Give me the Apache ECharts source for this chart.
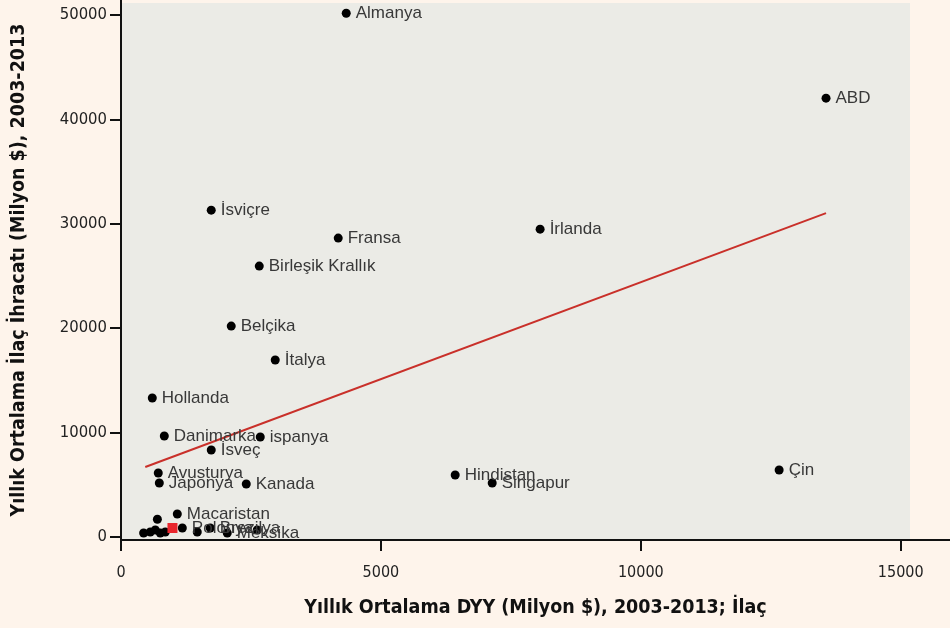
<!DOCTYPE html>
<html>
<head>
<meta charset="utf-8">
<script src="https://cdn.jsdelivr.net/npm/echarts@6/dist/echarts.min.js"></script>
<style>
    html, body { margin: 0; padding: 0; background: #fef4eb; }
    #chart { width: 950px; height: 628px; }
</style>
</head>
<body>
<div id="chart"></div>
<script>
    // ülke verileri: DYY (x) ve ilaç ihracatı (y), milyon $
    const countries = ['Almanya', 'ABD', 'İsviçre', 'Fransa', 'İrlanda', 'Birleşik Krallık', 'Belçika', 'İtalya',
        'Hollanda', 'Danimarka', 'ispanya', 'İsveç', 'Avusturya', 'Japonya', 'Kanada', 'Hindistan', 'Singapur', 'Çin',
        'Macaristan', '', 'Polonya', '', 'Brezilya', 'Meksika', '', '', '', '', '', ''];
    const fdi = [4333, 13563, 1736, 4179, 8063, 2660, 2121, 2967,
        602, 833, 2679, 1736, 717, 737, 2410, 6429, 7141, 12661,
        1083, 700, 1180, 1467, 1717, 2044, 435, 563, 660, 756, 852, 2621];
    const exports = [50170, 42035, 31310, 28630, 29490, 25950, 20200, 16950,
        13310, 9670, 9575, 8330, 6130, 5170, 5075, 5936, 5170, 6415,
        2200, 1700, 860, 480, 860, 380, 380, 480, 670, 380, 480, 670];

    // Türkiye (kırmızı)
    const turkeyX = [990];
    const turkeyY = [860];

    // eğilim çizgisi
    const trendX = [467, 13563];
    const trendY = [6700, 31020];

    const xTicks = [0, 5000, 10000, 15000];
    const yTicks = [0, 10000, 20000, 30000, 40000, 50000];

    const tickFont = "'DejaVu Sans Condensed', sans-serif";
    const labelFont = "'Liberation Sans', Arial, sans-serif";

    const chart = echarts.init(document.getElementById('chart'));

    const option = {
        backgroundColor: '#fef4eb',
        animation: false,
        grid: [
            // gri çizim alanı
            { left: 121, top: 3, width: 789, height: 537, show: true, backgroundColor: '#ebebe6', borderWidth: 0, outerBoundsMode: 'none' },
            { left: 121, right: 0, top: 0, bottom: 88, outerBoundsMode: 'none' }
        ],
        xAxis: [
            { gridIndex: 0, show: false, min: 0, max: 1 },
            {
                gridIndex: 1,
                type: 'value',
                min: 0,
                max: 15948,
                name: 'Yıllık Ortalama DYY (Milyon $), 2003-2013; İlaç',
                nameLocation: 'middle',
                nameGap: 58,
                nameMoveOverlap: false,
                nameTextStyle: { fontFamily: tickFont, fontWeight: 'bold', fontSize: 19.5, color: '#111' },
                axisLine: { onZero: false, lineStyle: { color: '#111', width: 2 } },
                axisTick: { customValues: xTicks, length: 11, lineStyle: { color: '#111', width: 2 } },
                axisLabel: { customValues: xTicks, formatter: v => String(v), margin: 25, fontFamily: tickFont, fontSize: 16, color: '#222' },
                splitLine: { show: false }
            }
        ],
        yAxis: [
            { gridIndex: 0, show: false, min: 0, max: 1 },
            {
                gridIndex: 1,
                type: 'value',
                min: -287,
                max: 51437,
                name: 'Yıllık Ortalama İlaç İhracatı (Milyon $), 2003-2013',
                nameLocation: 'middle',
                nameGap: 92,
                nameMoveOverlap: false,
                nameTextStyle: { fontFamily: tickFont, fontWeight: 'bold', fontSize: 19.5, color: '#111' },
                axisLine: { onZero: false, lineStyle: { color: '#111', width: 2 } },
                axisTick: { customValues: yTicks, length: 11, lineStyle: { color: '#111', width: 2 } },
                axisLabel: { customValues: yTicks, formatter: v => String(v), margin: 14, fontFamily: tickFont, fontSize: 16.5, color: '#222' },
                splitLine: { show: false }
            }
        ],
        series: [
            {
                type: 'line',
                xAxisIndex: 1,
                yAxisIndex: 1,
                data: trendX.map((x, i) => [x, trendY[i]]),
                symbol: 'none',
                lineStyle: { color: '#c9302a', width: 2 },
                z: 3
            },
            {
                type: 'scatter',
                xAxisIndex: 1,
                yAxisIndex: 1,
                data: fdi.map((x, i) => [x, exports[i], countries[i]]),
                symbolSize: 9,
                itemStyle: { color: '#000', opacity: 1 },
                label: {
                    show: true,
                    position: 'right',
                    distance: 5,
                    formatter: p => p.data[2],
                    fontFamily: labelFont,
                    fontSize: 17,
                    color: '#383838'
                },
                labelLayout: { hideOverlap: false },
                z: 4
            },
            {
                type: 'scatter',
                xAxisIndex: 1,
                yAxisIndex: 1,
                data: turkeyX.map((x, i) => [x, turkeyY[i]]),
                symbol: 'rect',
                symbolSize: 10,
                itemStyle: { color: '#e8262d', opacity: 1 },
                z: 5
            }
        ]
    };

    chart.setOption(option);
</script>
</body>
</html>
